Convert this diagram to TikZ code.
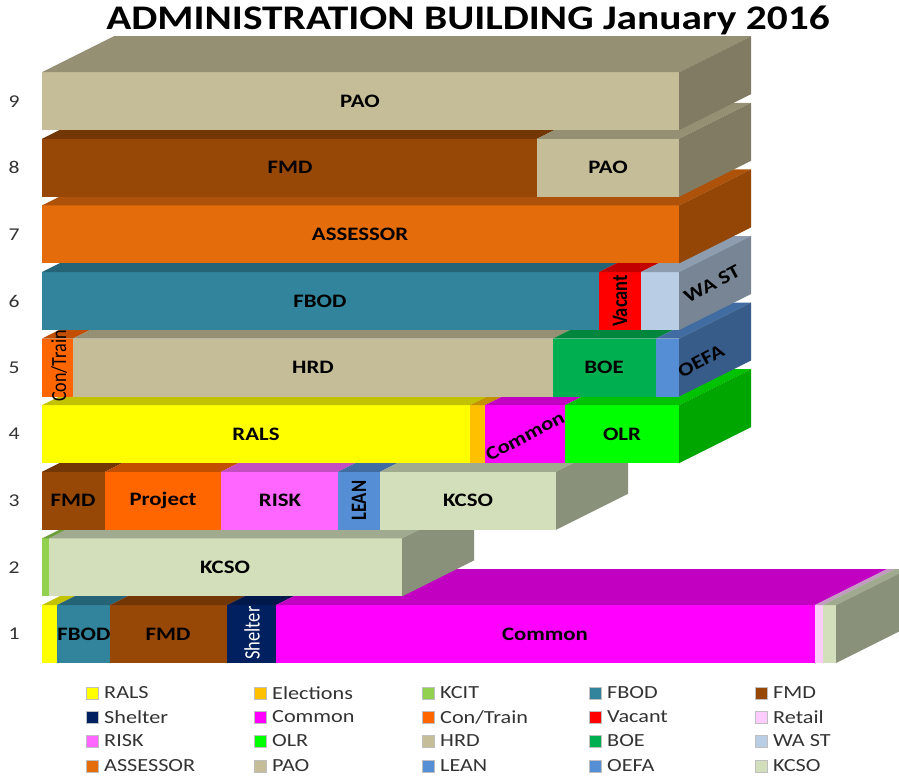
\documentclass[tikz,border=0pt]{standalone}
\usepackage{fontspec}
\setmainfont{Carlito}[FakeStretch=1.2]
\newfontfamily\vfont{Carlito}[FakeStretch=0.84]
\definecolor{cRALS}{HTML}{FFFF00}
\definecolor{cELEC}{HTML}{FFC000}
\definecolor{cKCIT}{HTML}{92D050}
\definecolor{cFBOD}{HTML}{31849B}
\definecolor{cFMD}{HTML}{974706}
\definecolor{cSHEL}{HTML}{002060}
\definecolor{cCOMM}{HTML}{FF00FF}
\definecolor{cCONT}{HTML}{FF6600}
\definecolor{cVAC}{HTML}{FF0000}
\definecolor{cRET}{HTML}{FFCCFF}
\definecolor{cRISK}{HTML}{FF66FF}
\definecolor{cOLR}{HTML}{00FF00}
\definecolor{cHRD}{HTML}{C4BD97}
\definecolor{cBOE}{HTML}{00B050}
\definecolor{cWAST}{HTML}{B9CDE5}
\definecolor{cASSE}{HTML}{E46C0A}
\definecolor{cPAO}{HTML}{C4BD97}
\definecolor{cLEAN}{HTML}{558ED5}
\definecolor{cOEFA}{HTML}{558ED5}
\definecolor{cKCSO}{HTML}{D3DFBB}
\newcommand\seg[4]{%
  \pgfmathsetmacro\yb{663-(#1-1)*66.6}%
  \pgfmathsetmacro\yt{\yb-58}%
  \fill[#4] (#2,\yb) rectangle (#3,\yt);
  \fill[#4!76!black] (#2,\yt) -- (#3,\yt) -- ++(72,-36) -- (#2+72,\yt-36) -- cycle;
}
\newcommand\side[3]{%
  \pgfmathsetmacro\yb{663-(#1-1)*66.6}%
  \pgfmathsetmacro\yt{\yb-58}%
  \fill[#3!65!black] (#2,\yb) -- (#2,\yt) -- ++(72,-36) -- ++(0,58) -- cycle;
}
\tikzset{
  lab/.style={font=\bfseries\fontsize{19}{21}\selectfont, text=black, inner sep=0pt},
  vlab/.style={font=\vfont\bfseries\fontsize{22}{24}\selectfont, text=black, inner sep=0pt, rotate=90},
  slab/.style={lab, rotate=28},
  fnum/.style={font=\fontsize{18}{20}\selectfont, text=black!80, inner sep=0pt},
  legtxt/.style={font=\fontsize{18.5}{20}\selectfont, text=black!80, anchor=west, inner sep=0pt},
  legbox/.style={draw=black!25, line width=0.4pt, minimum size=12pt, inner sep=0pt},
}
\begin{document}
\begin{tikzpicture}[x=1pt,y=-1pt]
\useasboundingbox (0,0) rectangle (899,778);
\fill[white] (0,0) rectangle (899,778);
\node[font=\bfseries\fontsize{34.5}{38}\selectfont, inner sep=0pt] (title) at (468,20) {ADMINISTRATION BUILDING January 2016};
% floor 1
\seg{1}{42}{57}{cRALS}\seg{1}{57}{110}{cFBOD}\seg{1}{110}{227}{cFMD}\seg{1}{227}{276}{cSHEL}
\seg{1}{276}{815}{cCOMM}\seg{1}{815}{823}{cRET}\seg{1}{823}{836}{cKCSO}\side{1}{836}{cKCSO}
% floor 2
\seg{2}{42}{49}{cKCIT}\seg{2}{49}{402}{cKCSO}\side{2}{402}{cKCSO}
% floor 3
\seg{3}{42}{105}{cFMD}\seg{3}{105}{221}{cCONT}\seg{3}{221}{338}{cRISK}\seg{3}{338}{380}{cLEAN}
\seg{3}{380}{556}{cKCSO}\side{3}{556}{cKCSO}
% floor 4
\seg{4}{42}{470}{cRALS}\seg{4}{470}{485}{cELEC}\seg{4}{485}{565}{cCOMM}\seg{4}{565}{679}{cOLR}\side{4}{679}{cOLR}
% floor 5
\seg{5}{42}{73}{cCONT}\seg{5}{73}{553}{cHRD}\seg{5}{553}{656}{cBOE}\seg{5}{656}{679}{cOEFA}\side{5}{679}{cOEFA}
% floor 6
\seg{6}{42}{599}{cFBOD}\seg{6}{599}{641}{cVAC}\seg{6}{641}{679}{cWAST}\side{6}{679}{cWAST}
% floor 7
\seg{7}{42}{679}{cASSE}\side{7}{679}{cASSE}
% floor 8
\seg{8}{42}{537}{cFMD}\seg{8}{537}{679}{cPAO}\side{8}{679}{cPAO}
% floor 9
\seg{9}{42}{679}{cPAO}\side{9}{679}{cPAO}
% labels
\node[lab] (l1b) at (84,634) {FBOD};
\node[lab] (l1c) at (168,634) {FMD};
\node[vlab, text=white, font=\vfont\fontsize{22}{24}\selectfont] (l1d) at (252,633) {Shelter};
\node[lab] (l1e) at (545,634) {Common};
\node[lab] (l2b) at (225,567.4) {KCSO};
\node[lab] (l3a) at (73,500.8) {FMD};
\node[lab] (l3b) at (163,500.8) {Project};
\node[lab] (l3c) at (280,500.8) {RISK};
\node[vlab] (l3d) at (359,500.8) {LEAN};
\node[lab] (l3e) at (468,500.8) {KCSO};
\node[lab] (l4a) at (256,434.2) {RALS};
\node[slab] (l4c) at (525,436) {Common};
\node[lab] (l4d) at (622,434.2) {OLR};
\node[vlab, font=\vfont\fontsize{21.5}{24}\selectfont] (l5a) at (59,366) {Con/Train};
\node[lab] (l5b) at (313,367.6) {HRD};
\node[lab] (l5c) at (604,367.6) {BOE};
\node[slab] (l5d) at (701,361) {OEFA};
\node[lab] (l6a) at (320,301) {FBOD};
\node[vlab] (l6b) at (620,301) {Vacant};
\node[slab] (l6c) at (712,284) {WA ST};
\node[lab] (l7a) at (360,234.4) {ASSESSOR};
\node[lab] (l8a) at (290,167.8) {FMD};
\node[lab] (l8b) at (608,167.8) {PAO};
\node[lab] (l9a) at (360,101.2) {PAO};
% floor numbers
\foreach \k in {1,...,9}{
  \pgfmathsetmacro\yy{634-(\k-1)*66.6}
  \node[fnum] (f\k) at (14,\yy) {\k};
}
% legend
\foreach \nm/\col/\cx/\ry in {
  RALS/cRALS/86/693, Elections/cELEC/254/693, KCIT/cKCIT/422/693, FBOD/cFBOD/589/693, FMD/cFMD/755/693,
  Shelter/cSHEL/86/717, Common/cCOMM/254/717, Con\slash Train/cCONT/422/717, Vacant/cVAC/589/717, Retail/cRET/755/717,
  RISK/cRISK/86/741, OLR/cOLR/254/741, HRD/cHRD/422/741, BOE/cBOE/589/741, WA ST/cWAST/755/741,
  ASSESSOR/cASSE/86/766, PAO/cPAO/254/766, LEAN/cLEAN/422/766, OEFA/cOEFA/589/766, KCSO/cKCSO/755/766}{
  \node[legbox, fill=\col, anchor=west] (b\cx\ry) at (\cx,\ry) {};
  \node[legtxt] (t\cx\ry) at (\cx+18,\ry) {\nm};
}
\end{tikzpicture}
\end{document}
